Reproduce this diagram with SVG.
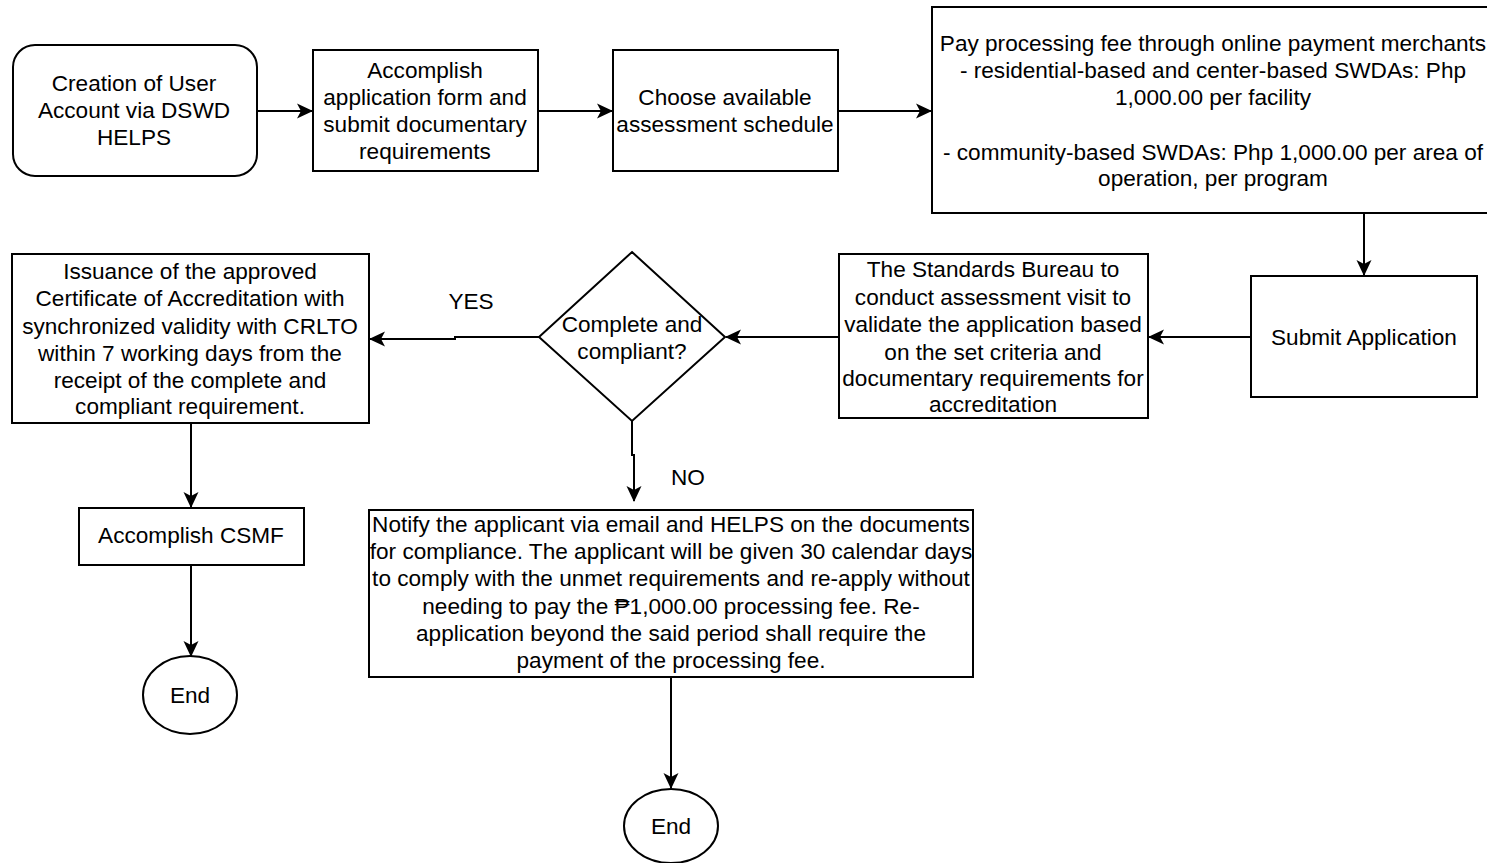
<svg xmlns="http://www.w3.org/2000/svg" width="1487" height="863" viewBox="0 0 1487 863">
<defs>
<style>
.box{fill:#fff;stroke:#000;stroke-width:2}
.t{font-family:"Liberation Sans",Arial,sans-serif;font-size:22.6px;fill:#000;text-anchor:middle;dominant-baseline:central}
.c{fill:none;stroke:#000;stroke-width:2}
</style>
<marker id="ah" viewBox="0 0 16 16" refX="15" refY="8" markerWidth="16" markerHeight="16" markerUnits="userSpaceOnUse" orient="auto">
<path d="M0,0.5 L16,8 L0,15.5 L4,8 Z" fill="#000"/>
</marker>
</defs>
<rect width="1487" height="863" fill="#fff"/>
<g id="connectors">
<path class="c" d="M257,111 H312" marker-end="url(#ah)"/>
<path class="c" d="M538,111 H612" marker-end="url(#ah)"/>
<path class="c" d="M838,111 H931" marker-end="url(#ah)"/>
<path class="c" d="M1364,213 V275" marker-end="url(#ah)"/>
<path class="c" d="M1251,337 H1149" marker-end="url(#ah)"/>
<path class="c" d="M839,337 H726" marker-end="url(#ah)"/>
<path class="c" d="M539,337 H455 V339 H370" marker-end="url(#ah)"/>
<path class="c" d="M632,421 V455 H634 V501" marker-end="url(#ah)"/>
<path class="c" d="M191,423 V507" marker-end="url(#ah)"/>
<path class="c" d="M191,565 V656" marker-end="url(#ah)"/>
<path class="c" d="M671,677 V788" marker-end="url(#ah)"/>
<text class="t" x="471" y="301">YES</text>
<text class="t" x="688" y="477">NO</text>
</g>
<g id="n1">
<rect class="box" x="13" y="45" width="244" height="131" rx="22"/>
<text class="t" x="134" y="83">Creation of User</text>
<text class="t" x="134" y="110">Account via DSWD</text>
<text class="t" x="134" y="137">HELPS</text>
</g>
<g id="n2">
<rect class="box" x="313" y="50" width="225" height="121"/>
<text class="t" x="425" y="70">Accomplish</text>
<text class="t" x="425" y="97">application form and</text>
<text class="t" x="425" y="124">submit documentary</text>
<text class="t" x="425" y="151">requirements</text>
</g>
<g id="n3">
<rect class="box" x="613" y="50" width="225" height="121"/>
<text class="t" x="725" y="97">Choose available</text>
<text class="t" x="725" y="124">assessment schedule</text>
</g>
<g id="n4">
<rect class="box" x="932" y="7" width="560" height="206"/>
<text class="t" x="1213" y="43">Pay processing fee through online payment merchants</text>
<text class="t" x="1213" y="70">- residential-based and center-based SWDAs: Php</text>
<text class="t" x="1213" y="97">1,000.00 per facility</text>
<text class="t" x="1213" y="152">- community-based SWDAs: Php 1,000.00 per area of</text>
<text class="t" x="1213" y="178">operation, per program</text>
</g>
<g id="n5">
<rect class="box" x="1251" y="276" width="226" height="121"/>
<text class="t" x="1364" y="337">Submit Application</text>
</g>
<g id="n6">
<rect class="box" x="839" y="254" width="309" height="164"/>
<text class="t" x="993" y="269">The Standards Bureau to</text>
<text class="t" x="993" y="297">conduct assessment visit to</text>
<text class="t" x="993" y="324">validate the application based</text>
<text class="t" x="993" y="352">on the set criteria and</text>
<text class="t" x="993" y="378">documentary requirements for</text>
<text class="t" x="993" y="404">accreditation</text>
</g>
<g id="n7">
<path class="box" d="M632,252 L725,337 L632,421 L539,337 Z"/>
<text class="t" x="632" y="324">Complete and</text>
<text class="t" x="632" y="351">compliant?</text>
</g>
<g id="n8">
<rect class="box" x="12" y="254" width="357" height="169"/>
<text class="t" x="190" y="271">Issuance of the approved</text>
<text class="t" x="190" y="298">Certificate of Accreditation with</text>
<text class="t" x="190" y="326">synchronized validity with CRLTO</text>
<text class="t" x="190" y="353">within 7 working days from the</text>
<text class="t" x="190" y="380">receipt of the complete and</text>
<text class="t" x="190" y="406">compliant requirement.</text>
</g>
<g id="n9">
<rect class="box" x="79" y="508" width="225" height="57"/>
<text class="t" x="191" y="535">Accomplish CSMF</text>
</g>
<g id="n10">
<ellipse class="box" cx="190" cy="695" rx="47" ry="39"/>
<text class="t" x="190" y="695">End</text>
</g>
<g id="n11">
<rect class="box" x="369" y="510" width="604" height="167"/>
<text class="t" x="671" y="524">Notify the applicant via email and HELPS on the documents</text>
<text class="t" x="671" y="551">for compliance. The applicant will be given 30 calendar days</text>
<text class="t" x="671" y="578">to comply with the unmet requirements and re-apply without</text>
<text class="t" x="671" y="606">needing to pay the ₱1,000.00 processing fee. Re-</text>
<text class="t" x="671" y="633">application beyond the said period shall require the</text>
<text class="t" x="671" y="660">payment of the processing fee.</text>
</g>
<g id="n12">
<ellipse class="box" cx="671" cy="826" rx="47" ry="37"/>
<text class="t" x="671" y="826">End</text>
</g>
</svg>
